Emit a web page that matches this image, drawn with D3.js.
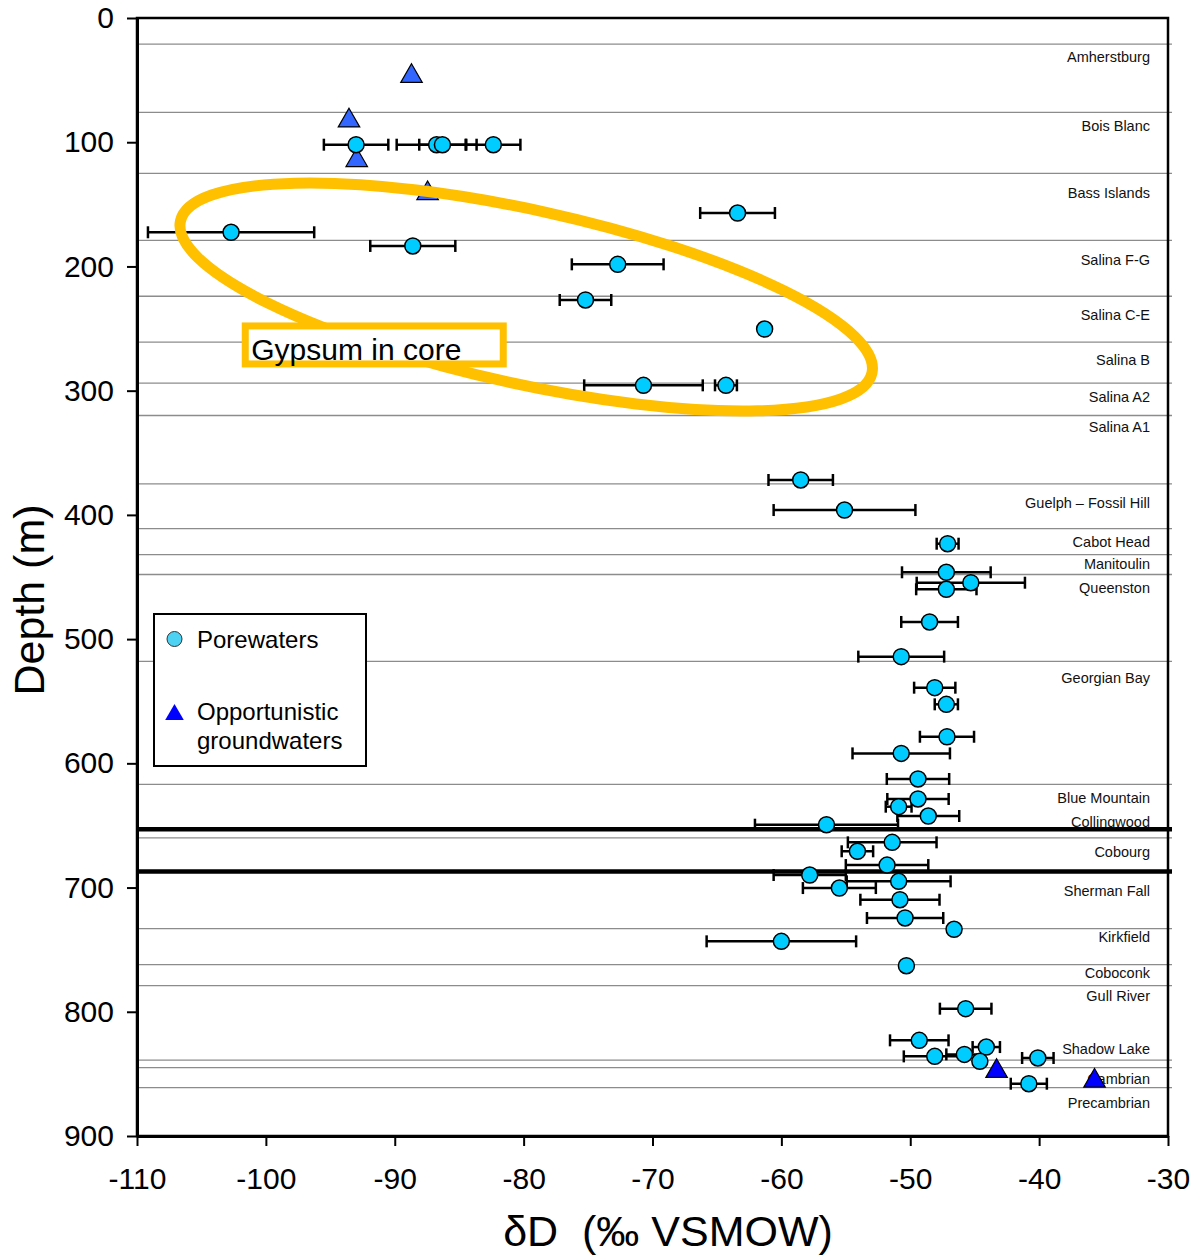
<!DOCTYPE html>
<html>
<head>
<meta charset="utf-8">
<script src="https://cdn.jsdelivr.net/npm/d3@7"></script>
<style>
  body { margin: 0; background: #fff; }
  svg text { font-family: "Liberation Sans", Arial, Helvetica, sans-serif; }
</style>
</head>
<body>
<svg id="chart" width="1198" height="1255"></svg>
<script>
// δD (‰ VSMOW) of porewaters with analytical uncertainty, by depth (m)
const poreDelta = [-93.0, -86.75, -86.3, -82.35, -63.4, -102.7, -88.6, -72.7, -75.2, -61.3,
  -70.7, -64.3, -58.5, -55.1, -47.1, -47.2, -45.3, -47.2, -48.5, -50.7,
  -48.1, -47.2, -47.15, -50.7, -49.4, -49.4, -50.9, -48.6, -56.5, -51.4,
  -54.1, -51.8, -57.8, -50.9, -55.5, -50.8, -50.4, -46.6, -60.0, -50.3,
  -45.7, -49.3, -44.1, -48.1, -45.8, -44.6, -40.1, -40.8];
const poreDepth = [102, 102, 102, 102, 157, 172.5, 183.5, 198.3, 227, 250.4,
  295.7, 295.7, 371.9, 396.1, 423.2, 446.2, 454.6, 459.9, 486.2, 514.1,
  539.1, 552.5, 578.6, 592, 612.6, 628.7, 634.9, 642.4, 649.4, 663.6,
  670.8, 681.9, 689.9, 695, 700.4, 709.8, 724.5, 733.6, 743.3, 762.9,
  797.5, 823, 828.4, 835.9, 834.3, 839.9, 837.2, 857.9];
const poreErr = [2.5, 3.1, 1.8, 2.1, 2.9, 6.45, 3.3, 3.56, 2.0, 0,
  4.6, 0.85, 2.5, 5.5, 0.85, 3.44, 4.2, 2.34, 2.2, 3.33,
  1.6, 0.9, 2.1, 3.78, 2.42, 2.38, 1.0, 2.4, 5.55, 3.44,
  1.22, 3.2, 2.8, 4.03, 2.83, 3.07, 2.96, 0, 5.8, 0,
  2.0, 2.27, 1.06, 2.4, 1.4, 0, 1.22, 1.4];

// Opportunistic groundwater samples
const gwDelta = [-88.7, -93.55, -92.95, -87.45, -43.3, -35.7];
const gwDepth = [44.3, 80.2, 112.1, 138.7, 845.3, 853.1];
const gwGroup = ["Devonian", "Devonian", "Devonian", "Devonian", "Cambrian", "Cambrian"];

// Formation contacts (m) and names
const boundaryDepths = [21, 76, 125, 179, 224, 261, 294, 320, 375, 411, 432, 448,
  518, 617, 660, 733, 762, 779, 839, 845, 861];
const contactDepths = [653, 687];
const formationNames = ["Amherstburg", "Bois Blanc", "Bass Islands", "Salina F-G", "Salina C-E",
  "Salina B", "Salina A2", "Salina A1", "Guelph \u2013 Fossil Hill", "Cabot Head", "Manitoulin",
  "Queenston", "Georgian Bay", "Blue Mountain", "Collingwood", "Cobourg", "Sherman Fall",
  "Kirkfield", "Coboconk", "Gull River", "Shadow Lake", "Cambrian", "Precambrian"];
const formationLabelDepths = [35.4, 90.7, 144.7, 198.8, 243.1, 279.3, 308.9, 333.3, 394.5,
  425.9, 443.6, 462.6, 535.6, 631.7, 651.0, 675.4, 706.6, 744.1, 772.6, 791.6, 833.8, 857.9, 877.2];

const xTicks = [-110, -100, -90, -80, -70, -60, -50, -40, -30];
const yTicks = [0, 100, 200, 300, 400, 500, 600, 700, 800, 900];

const svg = d3.select("#chart");
const plotL = 137, plotR = 1168, plotT = 18, plotB = 1136;

const x = d3.scaleLinear().domain([-110, -30]).range([plotL, plotR]);
const y = d3.scaleLinear().domain([0, 900]).range([plotT, plotB]);

// Formation names
svg.append("g")
  .selectAll("text")
  .data(formationNames)
  .join("text")
  .attr("x", 1150)
  .attr("y", (d, i) => y(formationLabelDepths[i]))
  .attr("text-anchor", "end")
  .attr("font-size", 14.5)
  .attr("fill", "#111")
  .text(d => d);

// Formation boundaries
svg.append("g")
  .selectAll("line")
  .data(boundaryDepths)
  .join("line")
  .attr("x1", plotL).attr("x2", plotR + 4)
  .attr("y1", d => y(d)).attr("y2", d => y(d))
  .attr("stroke", "#8c8c8c")
  .attr("stroke-width", 1.3);

svg.append("g")
  .selectAll("line")
  .data(contactDepths)
  .join("line")
  .attr("x1", plotL).attr("x2", plotR + 4)
  .attr("y1", d => y(d)).attr("y2", d => y(d))
  .attr("stroke", "#000")
  .attr("stroke-width", 4.5);

// Plot frame
svg.append("rect")
  .attr("x", plotL).attr("y", plotT)
  .attr("width", plotR - plotL).attr("height", plotB - plotT)
  .attr("fill", "none")
  .attr("stroke", "#000")
  .attr("stroke-width", 2.5);

// Axes (plain hyphen for negative numbers)
const fmt = d => String(d);
const yAxis = svg.append("g")
  .attr("transform", `translate(${plotL},0)`)
  .call(d3.axisLeft(y).tickValues(yTicks).tickFormat(fmt).tickSize(10).tickSizeOuter(0).tickPadding(13));
const xAxis = svg.append("g")
  .attr("transform", `translate(0,${plotB})`)
  .call(d3.axisBottom(x).tickValues(xTicks).tickFormat(fmt).tickSize(10).tickSizeOuter(0).tickPadding(22));
[yAxis, xAxis].forEach(g => {
  g.select(".domain").attr("stroke-width", 3);
  g.selectAll(".tick line").attr("stroke-width", 2);
  g.selectAll(".tick text")
    .attr("font-size", 30)
    .attr("fill", "#000")
    .style("font-family", '"Liberation Sans", Arial, sans-serif');
});

// Axis titles
svg.append("text")
  .attr("transform", "translate(44,600) rotate(-90)")
  .attr("text-anchor", "middle")
  .attr("font-size", 43)
  .text("Depth (m)");
svg.append("text")
  .attr("x", 668).attr("y", 1246)
  .attr("text-anchor", "middle")
  .attr("font-size", 43)
  .style("white-space", "pre")
  .text("\u03B4D  (\u2030 VSMOW)");

// Groundwater triangles
const triColor = d => d === "Cambrian" ? "#0000FF" : "#3366FF";
const triSize = 200;
const triOff = Math.sqrt(triSize / (Math.sqrt(3) * 3)) / 2;
svg.append("g")
  .selectAll("path")
  .data(gwDelta)
  .join("path")
  .attr("d", d3.symbol(d3.symbolTriangle, triSize))
  .attr("transform", (d, i) => `translate(${x(d)},${y(gwDepth[i]) + triOff})`)
  .attr("fill", (d, i) => triColor(gwGroup[i]))
  .attr("stroke", "#000")
  .attr("stroke-width", 1.2);

// Porewater error bars
const bars = svg.append("g")
  .selectAll("g")
  .data(poreDelta.map((d, i) => ({ v: d, dep: poreDepth[i], e: poreErr[i] })).filter(p => p.e > 0))
  .join("g")
  .attr("stroke", "#000")
  .attr("stroke-width", 2.5);
bars.append("line")
  .attr("x1", p => x(p.v - p.e)).attr("x2", p => x(p.v + p.e))
  .attr("y1", p => y(p.dep)).attr("y2", p => y(p.dep));
bars.append("line")
  .attr("x1", p => x(p.v - p.e)).attr("x2", p => x(p.v - p.e))
  .attr("y1", p => y(p.dep) - 6).attr("y2", p => y(p.dep) + 6);
bars.append("line")
  .attr("x1", p => x(p.v + p.e)).attr("x2", p => x(p.v + p.e))
  .attr("y1", p => y(p.dep) - 6).attr("y2", p => y(p.dep) + 6);

// Porewater points
svg.append("g")
  .selectAll("circle")
  .data(poreDelta)
  .join("circle")
  .attr("cx", d => x(d))
  .attr("cy", (d, i) => y(poreDepth[i]))
  .attr("r", 8)
  .attr("fill", "#00CCFF")
  .attr("stroke", "#000")
  .attr("stroke-width", 1.5);

// Gypsum-bearing interval
svg.append("ellipse")
  .attr("cx", 0).attr("cy", 0)
  .attr("rx", 354).attr("ry", 87)
  .attr("transform", `translate(${x(-79.8)},${y(224.6)}) rotate(12.4)`)
  .attr("fill", "none")
  .attr("stroke", "#FFC000")
  .attr("stroke-width", 11);

const gx = x(-101.6), gy = y(247.9);
svg.append("rect")
  .attr("x", gx).attr("y", gy)
  .attr("width", 258).attr("height", 38)
  .attr("fill", "#fff")
  .attr("stroke", "#FFC000")
  .attr("stroke-width", 7);
svg.append("text")
  .attr("x", gx + 6).attr("y", gy + 34)
  .attr("font-size", 30)
  .text("Gypsum in core");

// Legend
const lg = svg.append("g");
lg.append("rect")
  .attr("x", 154).attr("y", 614)
  .attr("width", 212).attr("height", 152)
  .attr("fill", "#fff")
  .attr("stroke", "#000")
  .attr("stroke-width", 2);
lg.append("circle")
  .attr("cx", 174.5).attr("cy", 639).attr("r", 7.5)
  .attr("fill", "#4dd2f4").attr("stroke", "#333").attr("stroke-width", 1);
lg.append("text").attr("x", 197).attr("y", 648).attr("font-size", 24).text("Porewaters");
lg.append("path")
  .attr("d", d3.symbol(d3.symbolTriangle, 150))
  .attr("transform", `translate(174.5,${712 + Math.sqrt(150 / (Math.sqrt(3) * 3)) / 2})`)
  .attr("fill", "#0000FF");
lg.append("text").attr("x", 197).attr("y", 720).attr("font-size", 24).text("Opportunistic");
lg.append("text").attr("x", 197).attr("y", 749).attr("font-size", 24).text("groundwaters");
</script>
</body>
</html>
